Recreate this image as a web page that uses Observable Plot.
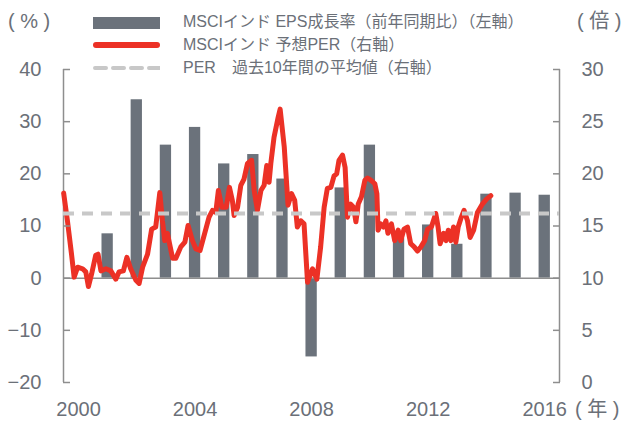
<!DOCTYPE html>
<html><head><meta charset="utf-8">
<script src="https://cdn.jsdelivr.net/npm/d3@7"></script>
<script src="https://cdn.jsdelivr.net/npm/@observablehq/plot@0.6"></script>
<style>
body{margin:0;background:#fff;}
#wrap{position:relative;width:625px;height:422px;font-family:"Liberation Sans","Noto Sans CJK JP",sans-serif;color:#6b7078;}
#wrap svg{position:absolute;left:0;top:0;}
.lab{position:absolute;font-family:"Liberation Sans","Noto Sans CJK JP",sans-serif;white-space:pre;line-height:1;font-size:20px;color:#6b7078;}
.leg{position:absolute;left:183px;font-size:16px;font-family:"Liberation Sans","Noto Sans CJK JP",sans-serif;white-space:nowrap;line-height:1;color:#6b7078;}
.sw{position:absolute;left:93px;width:67px;}
</style></head><body><div id="wrap"></div>
<script>
// Bars: MSCI India EPS growth (YoY, %), left axis
const barYears = [2001, 2002, 2003, 2004, 2005, 2006, 2007, 2008, 2009, 2010, 2011, 2012, 2013, 2014, 2015, 2016];
const epsGrowth = [8.5, 34.2, 25.5, 28.9, 21.9, 23.7, 19.0, -15.1, 17.3, 25.5, 7.6, 10.2, 6.5, 16.1, 16.3, 15.9];

// Line: MSCI India forward PER (x), right axis
const perTime = [1999.49,1999.62,1999.76,1999.85,1999.97,2000.14,2000.25,2000.34,2000.45,2000.59,2000.67,2000.77,2000.94,2001.11,2001.28,2001.39,2001.54,2001.66,2001.79,2001.97,2002.08,2002.20,2002.37,2002.51,2002.65,2002.79,2002.88,2002.96,2003.05,2003.23,2003.34,2003.51,2003.65,2003.76,2003.91,2004.03,2004.17,2004.33,2004.48,2004.60,2004.71,2004.80,2004.92,2005.07,2005.18,2005.28,2005.34,2005.46,2005.57,2005.68,2005.80,2005.94,2006.03,2006.14,2006.26,2006.37,2006.46,2006.54,2006.60,2006.71,2006.85,2006.92,2007.06,2007.19,2007.31,2007.42,2007.51,2007.63,2007.74,2007.86,2008.03,2008.18,2008.31,2008.43,2008.54,2008.66,2008.77,2008.86,2008.94,2009.06,2009.15,2009.23,2009.34,2009.44,2009.52,2009.60,2009.71,2009.83,2009.92,2010.03,2010.17,2010.24,2010.28,2010.37,2010.47,2010.55,2010.62,2010.74,2010.85,2010.97,2011.06,2011.17,2011.29,2011.40,2011.52,2011.63,2011.75,2011.88,2011.98,2012.11,2012.26,2012.34,2012.41,2012.53,2012.61,2012.69,2012.78,2012.87,2012.95,2013.03,2013.12,2013.23,2013.35,2013.44,2013.56,2013.69,2013.86,2014.01,2014.15];
const perValue = [18.15,15.5,12.3,10.1,11.05,10.9,10.6,9.2,10.4,12.2,12.3,10.7,10.9,10.7,9.9,10.6,10.7,12.0,10.9,9.8,9.5,11.05,12.3,14.7,14.9,18.2,15.5,13.6,14.3,11.9,11.9,13.0,13.45,15.05,13.6,12.8,12.65,14.3,15.85,16.5,16.3,18.4,16.8,16.8,18.7,17.45,16.0,16.8,18.9,19.5,21.0,21.3,18.4,16.5,18.4,18.9,20.8,19.2,21.0,23.5,25.4,26.2,22.6,17.0,18.1,17.45,14.9,15.5,15.2,9.6,10.9,9.9,13.0,16.8,18.6,18.7,19.8,20.0,21.3,21.8,20.6,15.85,17.1,16.8,15.4,17.1,17.8,19.4,19.6,19.4,19.05,18.1,14.6,15.2,14.9,15.5,14.3,15.2,13.6,14.6,13.6,14.7,14.9,13.3,13.0,12.6,13.0,13.6,14.7,14.9,16.2,14.9,13.3,14.3,13.6,14.6,13.6,14.9,13.45,14.9,15.7,16.5,15.5,13.9,14.6,16.3,17.1,17.6,17.9];

// Dashed: PER 10-year average (x), right axis
const perAverage = [16.2];

// Axes
const leftTicks = [-20, -10, 0, 10, 20, 30, 40];
const xTicks = [2000, 2004, 2008, 2012, 2016];
const xDomain = [1999.485, 2016.507];

const toLeft = v => v * 2 - 20;  // right axis (0–30) mapped onto left axis (-20–40)
const bars = barYears.map((year, i) => ({year, v: epsGrowth[i]}));
const per = perTime.map((t, i) => ({t, v: perValue[i]}));

const axisColor = "#8e8e8e";
const textColor = "#6b7078";

const chart = Plot.plot({
  width: 625, height: 422,
  marginLeft: 63, marginRight: 66, marginTop: 69, marginBottom: 40,
  x: {domain: xDomain},
  y: {domain: [-20, 40]},
  style: {fontFamily: "'Liberation Sans', Arial, sans-serif", fontSize: "20px", color: textColor, background: "transparent"},
  marks: [
    Plot.rectY(bars, {x1: d => d.year - 0.194, x2: d => d.year + 0.194, y: "v", fill: "#6b727b"}),
    Plot.ruleY([0], {stroke: axisColor, strokeWidth: 1.5}),
    Plot.ruleX(xDomain, {stroke: axisColor, strokeWidth: 1.5}),
    Plot.line(per, {x: "t", y: d => toLeft(d.v), stroke: "#ec3126", strokeWidth: 5, strokeLinejoin: "round", strokeLinecap: "round"}),
    Plot.ruleY(perAverage, {y: d => toLeft(d), stroke: "#c8c8c8", strokeWidth: 4, strokeDasharray: "11,8"}),
    Plot.axisY(leftTicks, {anchor: "left", tickSize: -7, tickPadding: 29, stroke: axisColor, strokeWidth: 1.5, label: null, fill: textColor}),
    Plot.axisY(leftTicks, {anchor: "right", tickSize: -7, tickPadding: 29, stroke: axisColor, strokeWidth: 1.5, label: null, fill: textColor, tickFormat: d => String((d + 20) / 2)}),
    Plot.axisX(xTicks, {anchor: "bottom", tickSize: 0, tickPadding: 19, label: null, fill: textColor, tickFormat: d => String(d)})
  ]
});
const wrap = document.getElementById("wrap");
wrap.appendChild(chart);

const add = (html, css, cls) => { const d = document.createElement("div"); d.className = cls; d.textContent = html; Object.assign(d.style, css); wrap.appendChild(d); return d; };
add("( % )", {left: "8px", top: "11px"}, "lab");
add("( 倍 )", {left: "577px", top: "11px"}, "lab");
add("( 年 )", {left: "575px", top: "399px"}, "lab");
add("", {top: "17px", height: "12px", background: "#6b727b"}, "sw");
add("", {top: "42px", height: "6px", background: "#ec3126", borderRadius: "3px"}, "sw");
const dash = add("", {top: "65px", height: "6px"}, "sw");
dash.innerHTML = '<svg width="67" height="6"><line x1="2" y1="3" x2="67" y2="3" stroke="#c8c8c8" stroke-width="4" stroke-dasharray="11,7" stroke-linecap="round"/></svg>';
add("MSCIインド EPS成長率（前年同期比）（左軸）", {top: "14px"}, "leg");
add("MSCIインド 予想PER（右軸）", {top: "37px"}, "leg");
add("PER　過去10年間の平均値（右軸）", {top: "60px"}, "leg");
</script></body></html>
